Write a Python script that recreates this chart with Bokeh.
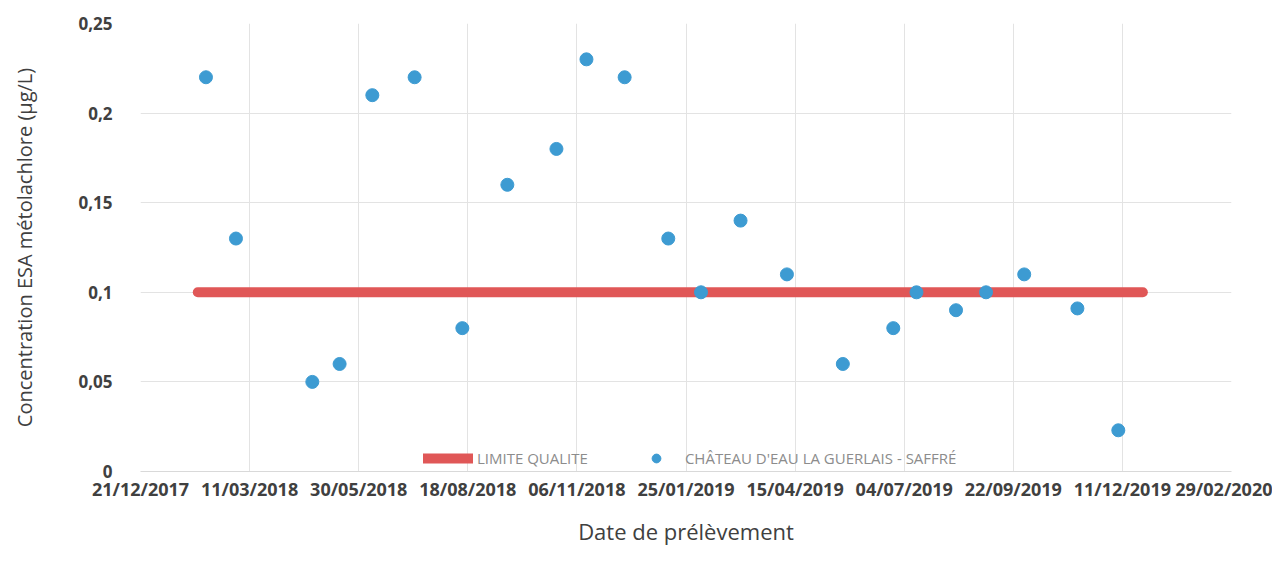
from datetime import datetime
from bokeh.plotting import figure
from bokeh.models import (Range1d, FixedTicker, DatetimeTickFormatter, CustomJSTickFormatter,
                          Legend, LegendItem)
from bokeh.embed import file_html
from bokeh.resources import INLINE

# ---- data ----
sample_dates = ["07/02/2018", "01/03/2018", "26/04/2018", "16/05/2018", "09/06/2018",
                "10/07/2018", "14/08/2018", "16/09/2018", "22/10/2018", "13/11/2018",
                "11/12/2018", "12/01/2019", "05/02/2019", "06/03/2019", "09/04/2019",
                "20/05/2019", "26/06/2019", "13/07/2019", "11/08/2019", "02/09/2019",
                "30/09/2019", "08/11/2019", "08/12/2019"]
concentrations = [0.22, 0.13, 0.05, 0.06, 0.21,
                  0.22, 0.08, 0.16, 0.18, 0.23,
                  0.22, 0.13, 0.10, 0.14, 0.11,
                  0.06, 0.08, 0.10, 0.09, 0.10,
                  0.11, 0.091, 0.023]
limit_dates = ["01/02/2018", "26/12/2019"]
limit_values = [0.1, 0.1]
x_tick_labels = ["21/12/2017", "11/03/2018", "30/05/2018", "18/08/2018", "06/11/2018",
                 "25/01/2019", "15/04/2019", "04/07/2019", "22/09/2019", "11/12/2019",
                 "29/02/2020"]
y_ticks = [0, 0.05, 0.1, 0.15, 0.2, 0.25]
series_limit = "LIMITE QUALITE"
series_points = "CHÂTEAU D'EAU LA GUERLAIS - SAFFRÉ"

def to_dt(s):
    return datetime.strptime(s, "%d/%m/%Y")

def to_ms(d):
    return (d - datetime(1970, 1, 1)).total_seconds() * 1000.0

xs = [to_dt(d) for d in sample_dates]
lx = [to_dt(d) for d in limit_dates]
tick_dts = [to_dt(d) for d in x_tick_labels]

RED = "#e05757"
BLUE = "#3d9bd2"
TEXT = "#404040"
GRID = "#e3e3e3"
FONT = "Open Sans"

p = figure(x_axis_type="datetime", output_backend="svg", toolbar_location=None,
           frame_width=1091, frame_height=448,
           min_border_left=140, min_border_right=41, min_border_top=23, min_border_bottom=0,
           x_range=Range1d(tick_dts[0], tick_dts[-1]), y_range=Range1d(0, 0.25))
p.outline_line_color = None
p.background_fill_color = "white"
p.border_fill_color = "white"

r_line = p.line(x=lx, y=limit_values, line_color=RED, line_width=10, line_cap="round")
r_pts = p.scatter(x=xs, y=concentrations, size=13, fill_color=BLUE, line_color=BLUE)

# x axis
xa = p.xaxis[0]
xa.ticker = FixedTicker(ticks=[to_ms(d) for d in tick_dts])
fmt = "%d/%m/%Y"
xa.formatter = DatetimeTickFormatter(microseconds=fmt, milliseconds=fmt, seconds=fmt,
                                     minsec=fmt, minutes=fmt, hourmin=fmt, hours=fmt,
                                     days=fmt, months=fmt, years=fmt)
xa.axis_label = "Date de prélèvement"
xa.axis_label_text_font = FONT
xa.axis_label_text_font_size = "22px"
xa.axis_label_text_font_style = "normal"
xa.axis_label_text_color = TEXT
xa.axis_label_standoff = 12
xa.major_label_text_font = FONT
xa.major_label_text_font_size = "18px"
xa.major_label_text_font_style = "bold"
xa.major_label_text_color = TEXT
xa.major_label_standoff = 5
xa.major_tick_line_color = None
xa.minor_tick_line_color = None
xa.major_tick_out = 0
xa.minor_tick_out = 0
xa.axis_line_color = "#d9d9d9"

# y axis
ya = p.yaxis[0]
ya.ticker = FixedTicker(ticks=y_ticks)
ya.formatter = CustomJSTickFormatter(code="return (Math.round(tick*100)/100).toString().replace('.', ',');")
ya.axis_label = "Concentration ESA métolachlore (µg/L)"
ya.axis_label_text_font = FONT
ya.axis_label_text_font_size = "20px"
ya.axis_label_text_font_style = "normal"
ya.axis_label_text_color = TEXT
ya.axis_label_standoff = 37
ya.major_label_text_font = FONT
ya.major_label_text_font_size = "17px"
ya.major_label_text_font_style = "bold"
ya.major_label_text_color = TEXT
ya.major_label_standoff = 22
ya.major_tick_line_color = None
ya.minor_tick_line_color = None
ya.axis_line_color = None

p.xgrid.grid_line_color = GRID
p.ygrid.grid_line_color = GRID

legend = Legend(items=[LegendItem(label=series_limit, renderers=[r_line]),
                       LegendItem(label=series_points, renderers=[r_pts])],
                orientation="horizontal", location=(283, 2),
                glyph_width=50, glyph_height=22, label_standoff=4, spacing=43,
                padding=0, margin=0, border_line_color=None, background_fill_alpha=0,
                label_text_color="#8c8c8c", label_text_font=FONT, label_text_font_size="15px")
p.add_layout(legend, "center")

open("out.html", "w").write(file_html(p, INLINE))
